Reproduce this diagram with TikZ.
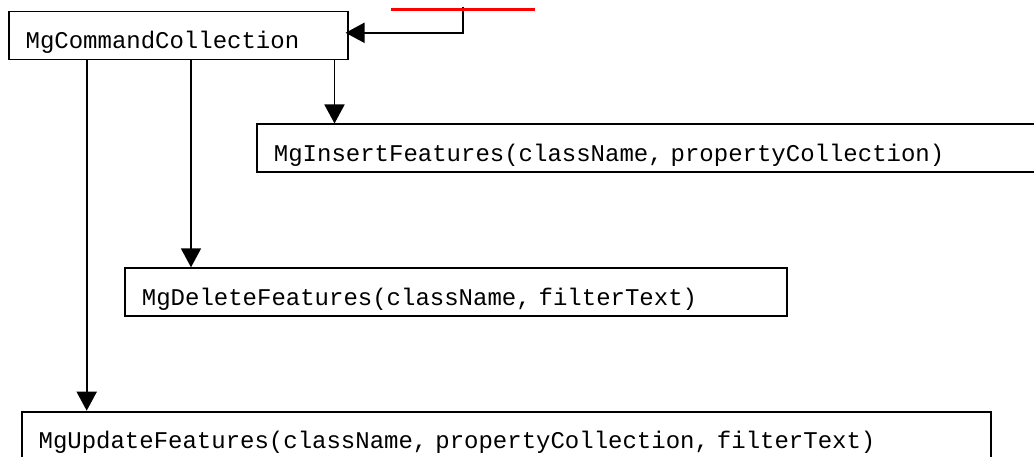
\documentclass[tikz,border=0pt]{standalone}
\usepackage{fontspec}
\setmonofont{Liberation Mono}
\usetikzlibrary{arrows.meta}
\begin{document}
\begin{tikzpicture}[x=1pt,y=-1pt,
  box/.style={draw, line width=1.8pt, anchor=north west, inner xsep=17pt,
    inner ysep=0pt, minimum height=48pt, text height=30pt, text depth=4pt,
    font=\fontsize{24}{24}\selectfont\ttfamily, align=left},
  link/.style={line width=1.8pt, -{Triangle[length=19pt,width=20pt]}},
]
\useasboundingbox (0,0) rectangle (1034,457);
\clip (0,0) rectangle (1034,457);

% command collection and the commands it holds
\node[box, text width=305pt] (cmd) at (7.7,10.7) {MgCommandCollection};
\node[box, text width=760pt] (ins) at (256,123.5) {MgInsertFeatures(className, propertyCollection)};
\node[box, text width=628pt] (del) at (124,267.3) {MgDeleteFeatures(className, filterText)};
\node[box, text width=935pt] (upd) at (20.7,410.7) {MgUpdateFeatures(className, propertyCollection, filterText)};

% links from the collection down to each command
\draw[link] ([xshift=79pt]cmd.south west) -- ([xshift=79pt]cmd.south west |- upd.north);
\draw[link] ([xshift=183.3pt]cmd.south west) -- ([xshift=183.3pt]cmd.south west |- del.north);
\draw[link] ([xshift=326.8pt]cmd.south west) -- ([xshift=326.8pt]cmd.south west |- ins.north);

% incoming link into the collection
\coordinate (feed) at (463,6.7);
\draw[link] (feed) |- ([xshift=-3pt,yshift=2.8pt]cmd.east);
\draw[red, line width=2.7pt] (391,9.7) -- (535,9.7);
\end{tikzpicture}
\end{document}
